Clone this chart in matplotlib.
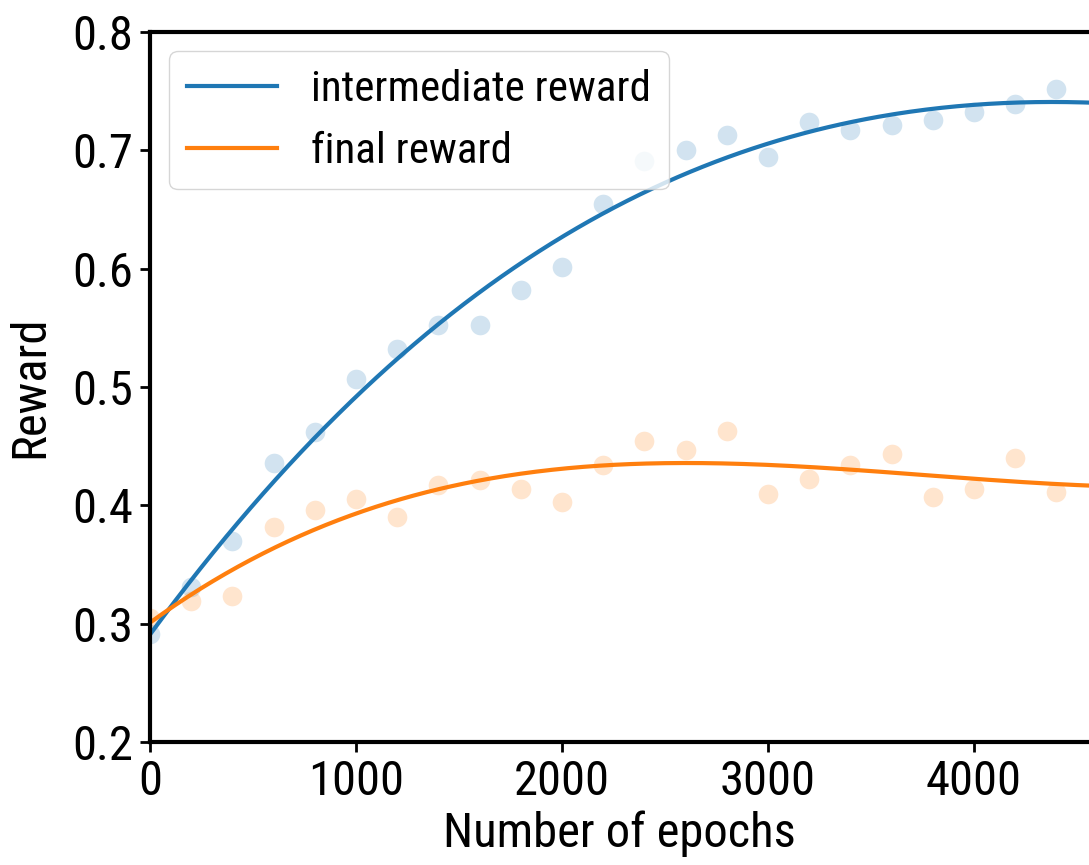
import numpy as np
import matplotlib.pyplot as plt

plt.rcParams['font.family'] = ['Roboto Condensed', 'Roboto', 'DejaVu Sans']

# Reward values logged every 200 epochs
epochs = np.arange(0, 4600, 200)
intermediate = [0.291, 0.331, 0.370, 0.436, 0.462, 0.507, 0.532, 0.552, 0.552, 0.582,
                0.601, 0.655, 0.691, 0.700, 0.713, 0.694, 0.724, 0.717, 0.721, 0.726,
                0.732, 0.739, 0.752]
final = [0.305, 0.319, 0.323, 0.382, 0.396, 0.405, 0.390, 0.417, 0.421, 0.414,
         0.403, 0.434, 0.454, 0.447, 0.463, 0.410, 0.422, 0.434, 0.443, 0.407,
         0.414, 0.440, 0.411]

x_max = 4558

fig = plt.figure(figsize=(10.89, 8.65), dpi=100)
ax = fig.add_axes([150 / 1089, 1 - 742 / 865, 1 - 150 / 1089, (742 - 32) / 865])

x_fit = np.linspace(0, x_max, 300)
for y, color, label in [(intermediate, '#1f77b4', 'intermediate reward'),
                        (final, '#ff7f0e', 'final reward')]:
    ax.scatter(epochs, y, s=200, color=color, alpha=0.2, linewidths=0)
    coef = np.polyfit(epochs, y, 3)
    ax.plot(x_fit, np.polyval(coef, x_fit), color=color, linewidth=3, label=label)

ax.set_xlim(0, x_max)
ax.set_ylim(0.2, 0.8)
ax.set_xticks([0, 1000, 2000, 3000, 4000])
ax.set_yticks([0.2, 0.3, 0.4, 0.5, 0.6, 0.7, 0.8])
ax.tick_params(labelsize=35, width=2, length=7, pad=5)
for s in ax.spines.values():
    s.set_linewidth(3)
ax.spines['right'].set_visible(False)
ax.set_xlabel('Number of epochs', fontsize=35, labelpad=4)
ax.set_ylabel('Reward', fontsize=35, labelpad=14)
ax.legend(loc='upper left', fontsize=31, handlelength=2.1, borderpad=0.4,
          handletextpad=0.8, borderaxespad=0.45)

fig.savefig('out.png', dpi=100)
